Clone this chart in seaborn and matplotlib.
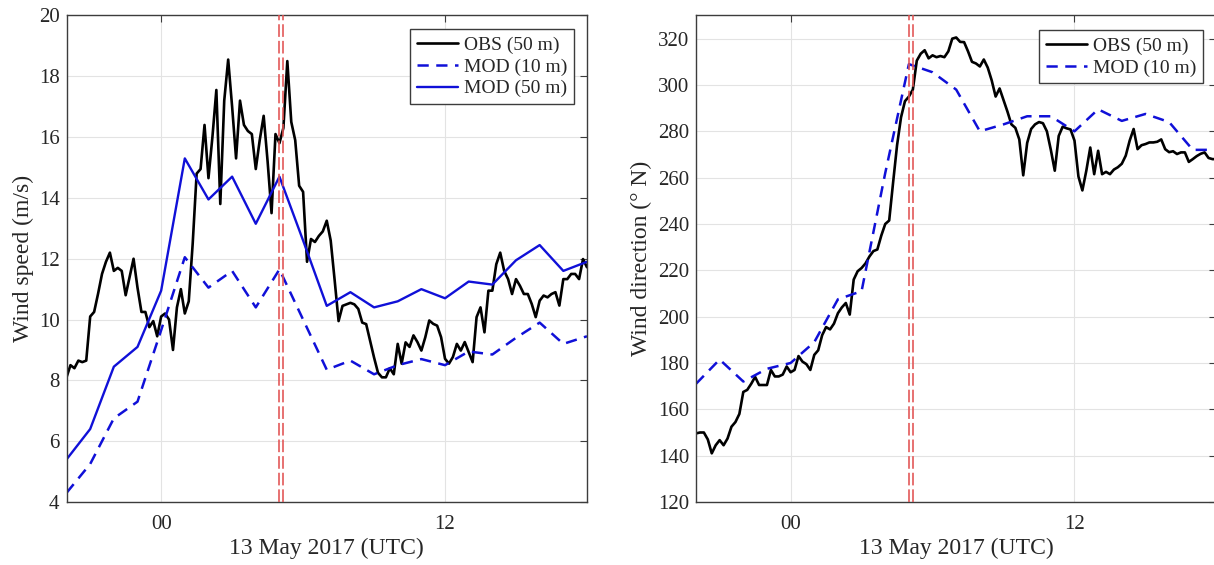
import numpy as np
import pandas as pd
import matplotlib
matplotlib.use("Agg")
import matplotlib.pyplot as plt
import seaborn as sns

# Time axis: hours relative to 00 UTC, 13 May 2017
obs_start_h = -4.0
obs_step_h = 1.0 / 6.0          # 10-minute observations
model_hours = list(range(-4, 19))  # hourly model output

# Wind speed (m/s)
obs_speed_50m = [
    8.1, 8.5, 8.4, 8.65, 8.6, 8.65,
    10.1, 10.25, 10.85, 11.5, 11.9, 12.2,
    11.6, 11.7, 11.6, 10.8, 11.4, 12.0,
    11.05, 10.25, 10.25, 9.75, 9.95, 9.45,
    10.1, 10.2, 10.0, 9.0, 10.4, 11.0,
    10.2, 10.6, 12.5, 14.8, 14.95, 16.4,
    14.65, 16.0, 17.55, 13.8, 17.2, 18.55,
    17.0, 15.3, 17.2, 16.4, 16.2, 16.1,
    14.95, 15.9, 16.7, 15.2, 13.5, 16.1,
    15.8, 16.3, 18.5, 16.5, 15.9, 14.4,
    14.2, 11.9, 12.65, 12.55, 12.75, 12.9,
    13.25, 12.6, 11.3, 9.95, 10.45, 10.5,
    10.55, 10.5, 10.35, 9.9, 9.85, 9.3,
    8.75, 8.25, 8.1, 8.1, 8.4, 8.2,
    9.2, 8.55, 9.25, 9.1, 9.48, 9.26,
    8.98, 9.42, 9.97, 9.86, 9.8, 9.42,
    8.71, 8.55, 8.77, 9.2, 8.98, 9.26,
    8.93, 8.6, 10.08, 10.4, 9.58, 10.95,
    10.95, 11.82, 12.2, 11.6, 11.33, 10.84,
    11.33, 11.11, 10.84, 10.84, 10.51, 10.08,
    10.62, 10.79, 10.73, 10.84, 10.9, 10.46,
    11.33, 11.33, 11.5, 11.5, 11.33, 11.99,
    11.72,
]
mod_speed_10m = [
    4.3, 5.25, 6.75, 7.3, 9.65, 12.05, 11.05, 11.6, 10.4, 11.65, 10.0, 8.35,
    8.65, 8.2, 8.5, 8.7, 8.5, 8.95, 8.85, 9.4, 9.9, 9.2, 9.45,
]
mod_speed_50m = [
    5.4, 6.4, 8.45, 9.1, 10.95, 15.3, 13.95, 14.7, 13.15, 14.7, 12.6, 10.45,
    10.9, 10.4, 10.6, 11.0, 10.7, 11.25, 11.15, 11.95, 12.45, 11.6, 11.9,
]

# Wind direction (degrees from N)
obs_dir_50m = [
    149.6, 150, 150, 147, 141, 144.5,
    146.7, 144.5, 147.4, 152.5, 154.5, 158,
    167.5, 168.4, 171, 174, 170.5, 170.5,
    170.5, 177, 174.2, 174.2, 175, 178.5,
    176, 177, 183, 180.6, 179.5, 177,
    183.5, 185.5, 192, 195.5, 194.5, 197,
    201.5, 204, 205.9, 200.9, 216, 219.6,
    221, 223, 226, 228.3, 229, 235,
    240, 241.5, 258, 274, 286, 293,
    295, 298, 310.5, 313.5, 315, 311.5,
    312.8, 312, 312.5, 312, 314.5, 320,
    320.5, 318.6, 318.5, 314.5, 310, 309.3,
    308, 311, 307.5, 302, 295, 298.5,
    293.5, 288.5, 283, 281.5, 276.5, 261,
    275, 281, 283, 284, 283.5, 280,
    272, 263, 278, 282, 281.3, 280.8,
    276, 260.5, 254.5, 263, 273, 261.5,
    271.6, 261.5, 262.5, 261.5, 263.5, 264.5,
    266, 269.5, 276, 281, 272.3, 274,
    274.5, 275.2, 275.2, 275.5, 276.5, 272.3,
    271, 271.4, 270.2, 270.9, 270.9, 266.8,
    268, 269.3, 270.3, 270.9, 268.5, 268,
    268,
]
mod_dir_10m = [
    171, 181.5, 172, 177.5, 180, 189, 207.5, 211, 262, 309, 305.5, 298,
    280, 283, 286.5, 286.5, 280, 289.5, 284.5, 287.5, 284, 272, 272,
]

# Event markers (hours)
event_hours = [5.0, 5.17]

x_ticks = [0, 12]
x_tick_labels = ["00", "12"]
speed_ticks = list(range(4, 21, 2))
dir_ticks = list(range(120, 321, 20))

obs_hours = obs_start_h + np.arange(len(obs_speed_50m)) * obs_step_h
obs_df = pd.DataFrame({"hour": obs_hours, "speed": obs_speed_50m,
                       "direction": obs_dir_50m})
mod_df = pd.DataFrame({"hour": model_hours, "speed10": mod_speed_10m,
                       "speed50": mod_speed_50m, "dir10": mod_dir_10m})

sns.set_theme(style="white")
plt.rcParams["font.family"] = ["Liberation Serif", "DejaVu Serif"]
plt.rcParams["axes.edgecolor"] = "#3c3c3c"
plt.rcParams["axes.linewidth"] = 1.0

BLACK = "#000000"
BLUE = "#1010d8"
RED = "#e25555"
DASH = (0, (4.5, 3.0))

fig = plt.figure(figsize=(12.14, 5.65), dpi=100)
ax1 = fig.add_axes([0.0548, 0.1115, 0.4287, 0.8611])
ax2 = fig.add_axes([0.5733, 0.1115, 0.4287, 0.8611])

common = dict(estimator=None, sort=False, errorbar=None)

# Left: wind speed
sns.lineplot(data=obs_df, x="hour", y="speed", ax=ax1, color=BLACK,
             linewidth=1.9, label="OBS (50 m)", **common)
sns.lineplot(data=mod_df, x="hour", y="speed10", ax=ax1, color=BLUE,
             linewidth=1.8, linestyle=DASH, label="MOD (10 m)", **common)
sns.lineplot(data=mod_df, x="hour", y="speed50", ax=ax1, color=BLUE,
             linewidth=1.7, label="MOD (50 m)", **common)

# Right: wind direction
sns.lineplot(data=obs_df, x="hour", y="direction", ax=ax2, color=BLACK,
             linewidth=1.9, label="OBS (50 m)", **common)
sns.lineplot(data=mod_df, x="hour", y="dir10", ax=ax2, color=BLUE,
             linewidth=1.8, linestyle=DASH, label="MOD (10 m)", **common)

for ax in (ax1, ax2):
    for h in event_hours:
        ax.axvline(h, color=RED, linewidth=1.3, alpha=0.9,
                   linestyle=(0, (7, 2.2)), zorder=3)
    ax.set_xlim(-4, 18)
    ax.set_xticks(x_ticks)
    ax.set_xticklabels(x_tick_labels)
    ax.grid(True, color="#e3e3e3", linewidth=0.8)
    ax.set_axisbelow(True)
    ax.tick_params(axis="both", which="both", direction="in", length=5,
                   width=0.8, color="#3c3c3c", top=True, right=True,
                   labelsize=15, labelcolor="#262626")
    ax.tick_params(axis="x", pad=9)
    ax.tick_params(axis="y", pad=5)
    ax.set_xlabel("13 May 2017 (UTC)", fontsize=17, color="#262626")
    ax.xaxis.set_label_coords(0.5, -0.074)
    for s in ax.spines.values():
        s.set_visible(True)

ax1.set_ylim(4, 20)
ax1.set_yticks(speed_ticks)
ax1.set_ylabel("Wind speed (m/s)", fontsize=17, color="#262626")
ax1.yaxis.set_label_coords(-0.062, 0.5)

ax2.set_ylim(120, 330)
ax2.set_yticks(dir_ticks)
ax2.set_ylabel("Wind direction (° N)", fontsize=17, color="#262626")
ax2.yaxis.set_label_coords(-0.085, 0.5)

leg_kw = dict(loc="upper right", fontsize=14, frameon=True, fancybox=False,
              framealpha=1.0, edgecolor="#3c3c3c", borderaxespad=0.0,
              handlelength=2.1, handletextpad=0.3, labelspacing=0.22,
              borderpad=0.35)
l1 = ax1.legend(bbox_to_anchor=(0.975, 0.972), **leg_kw)
l2 = ax2.legend(bbox_to_anchor=(0.974, 0.970), **leg_kw)
for lg in (l1, l2):
    lg.get_frame().set_linewidth(1.0)

fig.savefig("out.png", dpi=100)
